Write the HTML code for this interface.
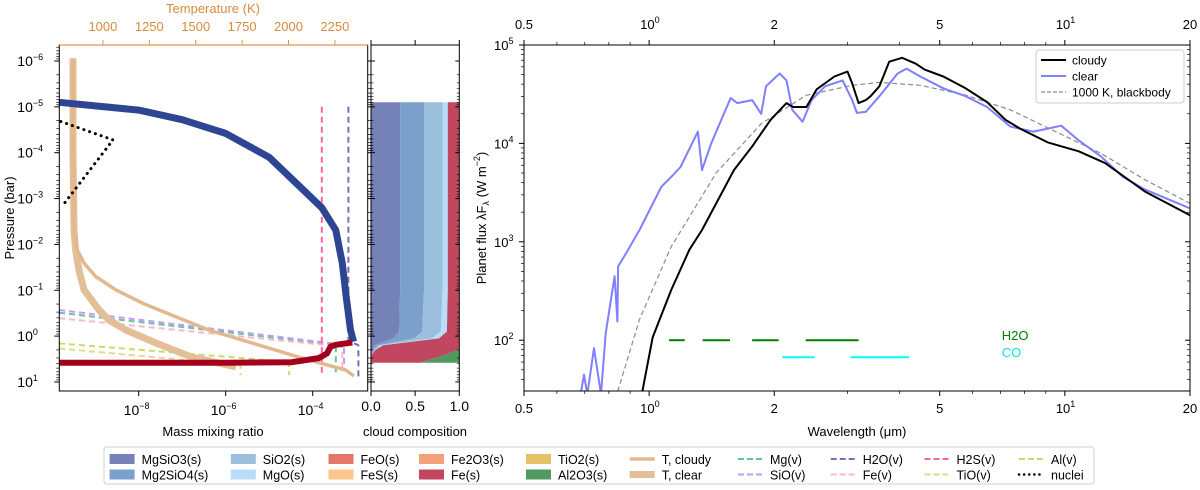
<!DOCTYPE html>
<html><head><meta charset="utf-8"><style>
html,body{margin:0;padding:0;background:#fff;}
svg{display:block;font-family:"Liberation Sans","DejaVu Sans",sans-serif;}
</style></head><body>
<svg id="fig" width="1200" height="490" viewBox="0 0 1200 490" xmlns="http://www.w3.org/2000/svg">
<defs>
<clipPath id="clipL"><rect x="59.3" y="45" width="308.4" height="346"/></clipPath>
<clipPath id="clipC"><rect x="371" y="45" width="88.3" height="346"/></clipPath>
<clipPath id="clipR"><rect x="524" y="45" width="666" height="346"/></clipPath>
</defs>
<g id="left"></g>
<g id="comp"></g>
<g id="right"></g>
<g id="legend"></g>
</svg>
<script>
// ---------- Left panel data (log10 values) ----------
const mgsio3LogX = [-9.83,-9,-8,-7,-6,-5,-4.45,-3.79,-3.47,-3.32,-3.23,-3.13,-3.06];
const mgsio3LogP = [-5.1,-5.02,-4.93,-4.72,-4.42,-3.9,-3.4,-2.8,-2.31,-1.59,-0.86,-0.13,0.12];
const feLogX = [-9.83,-8,-6,-4.48,-3.86,-3.67,-3.59,-3.47,-3.09];
const feLogP = [0.58,0.58,0.58,0.57,0.48,0.375,0.23,0.19,0.14];
const tCloudyT = [839,839,845,862,898,961,1069,1212,1392,1572,1803,2056,2308,2353];
const tCloudyLogP = [-6.06,-4,-2.31,-1.88,-1.59,-1.30,-1.01,-0.72,-0.42,-0.13,0.15,0.46,0.74,0.87];
const tClearT = [839,839,844,853,871,898,979,1033,1124,1286,1480,1717];
const tClearLogP = [-6.06,-4,-2.31,-1.88,-1.44,-1.01,-0.57,-0.35,-0.13,0.15,0.46,0.67];
const nucleiLogX = [-9.79,-8.59,-9.77];
const nucleiLogP = [-4.68,-4.28,-2.82];
const vaporNames = ['Mg(v)','SiO(v)','Fe(v)','Al(v)','TiO(v)','H2S(v)','H2O(v)'];
const vaporColors = ['#66c2a5','#c39bf0','#f9b8c8','#c8dc6a','#e6d98a','#f768a1','#7570b3'];
const vaporLogX = [[-9.83,-3.47,-3.47],[-9.83,-3.28,-3.28],[-9.83,-3.32,-3.32],[-9.83,-4.54,-4.54],[-9.83,-5.66,-5.66],[-3.79,-3.79],[-3.18,-3.18,-2.95,-2.95]];
const vaporLogP = [[-0.51,0.19,0.85],[-0.57,0.19,0.74],[-0.39,0.23,0.7],[0.16,0.56,0.85],[0.27,0.63,0.85],[-5.0,0.88],[-5.0,0.1,0.2,0.88]];
// cloud composition (fractions at pressure levels)
const compLogP = [-5.1,-1,-0.1,0.05,0.2,0.3,0.4,0.58];
const compNames = ['MgSiO3(s)','Mg2SiO4(s)','SiO2(s)','MgO(s)','Fe(s)','Al2O3(s)'];
const compColors = ['#7582b8','#7ba0cc','#9bbfdc','#b8dcf9','#c0475f','#4f9a5f'];
const compFrac = [
 [0.33,0.33,0.32,0.25,0.04,0.02,0.01,0],
 [0.27,0.27,0.26,0.24,0.04,0.01,0,0],
 [0.21,0.21,0.21,0.2,0.03,0.01,0,0],
 [0.06,0.06,0.07,0.08,0.03,0.01,0,0],
 [0.13,0.13,0.14,0.23,0.86,0.93,0.85,0.55],
 [0,0,0,0,0,0.02,0.14,0.45]];
// ---------- Right panel data ----------
const clearLam = [0.684,0.697,0.71,0.737,0.766,0.786,0.826,0.839,0.842,0.879,0.948,1.07,1.13,1.19,1.31,1.34,1.41,1.57,1.63,1.77,1.86,1.91,2.06,2.14,2.21,2.34,2.46,2.65,2.92,3.08,3.16,3.32,3.58,3.96,4.16,4.49,5.1,5.77,6.5,7.4,8.4,9.1,9.8,10.8,12.2,13.8,15.6,20];
const clearLogF = [1.45,1.65,1.45,1.92,1.45,2.07,2.65,2.19,2.75,2.88,3.12,3.56,3.66,3.76,4.12,3.73,4.0,4.46,4.41,4.44,4.30,4.58,4.71,4.64,4.34,4.22,4.44,4.58,4.64,4.44,4.31,4.32,4.48,4.71,4.76,4.68,4.56,4.48,4.37,4.17,4.12,4.15,4.18,4.03,3.87,3.66,3.53,3.34];
const cloudyLam = [0.96,1.02,1.13,1.25,1.34,1.45,1.60,1.77,1.96,2.14,2.22,2.39,2.53,2.79,3.0,3.08,3.19,3.32,3.41,3.58,3.78,4.06,4.38,4.6,5.1,5.77,6.5,7.2,7.8,9.1,10.8,12.5,15.6,20];
const cloudyLogF = [1.45,2.03,2.51,2.92,3.12,3.39,3.73,3.97,4.24,4.41,4.37,4.37,4.55,4.68,4.73,4.61,4.41,4.44,4.48,4.58,4.83,4.87,4.81,4.75,4.68,4.56,4.42,4.24,4.15,4.01,3.92,3.80,3.51,3.27];
const bbLam = [0.84,0.948,1.13,1.45,1.86,2.39,3.08,3.58,4.49,5.77,7.4,9.5,12.2,15.6,20];
const bbLogF = [1.48,2.21,2.95,3.70,4.20,4.49,4.59,4.62,4.59,4.49,4.34,4.12,3.90,3.63,3.39];
const h2oBands = [[1.117,1.218],[1.345,1.565],[1.769,2.049],[2.38,3.19]];
const coBands = [[2.09,2.5],[3.05,4.22]];
const yTicks = [2,3,4,5];
const xTickVals = [0.5,1,2,5,10,20];
const xTickLabels = ['0.5','10^0','2','5','10^1','20'];
const pTicks = [-6,-5,-4,-3,-2,-1,0,1];
const mTicks = [-8,-6,-4];
const tTicks = [1000,1250,1500,1750,2000,2250];
const cTicks = [0,0.5,1];

const NS='http://www.w3.org/2000/svg';
function mk(parent,tag,attrs,name,inter){const e=document.createElementNS(NS,tag);for(const k in attrs)e.setAttribute(k,attrs[k]);


parent.appendChild(e);return e;}
function txt(parent,x,y,s,attrs,name){const e=mk(parent,'text',Object.assign({x:x,y:y,'font-size':13,fill:'#000'},attrs||{}),name,false);e.textContent=s;return e;}
function sup(parent,x,y,base,exp,attrs,name){const e=mk(parent,'text',Object.assign({x:x,y:y,'font-size':13,fill:'#000'},attrs||{}),name,false);
const t1=document.createElementNS(NS,'tspan');t1.textContent=base;e.appendChild(t1);
const t2=document.createElementNS(NS,'tspan');t2.setAttribute('dy','-6');t2.setAttribute('font-size','9');t2.textContent=exp;e.appendChild(t2);return e;}

// ---- scales ----
const L={x0:59.3,x1:367.7,y0:45,y1:391};
const mx=v=>138.7+(v+8)*43.5;
const py=v=>61+(v+6)*45.85;
const tx=T=>59.3+(T-765)*0.1856;
const C={x0:371,x1:459.3};
const cx=f=>C.x0+f*(C.x1-C.x0);
const R={x0:524,x1:1190,y0:45,y1:391};
const lx=l=>524+415.7*Math.log10(l/0.5);
const fy=v=>45+98.4*(5-v);

const left=document.getElementById('left'),comp=document.getElementById('comp'),right=document.getElementById('right'),leg=document.getElementById('legend');

// ===== Left panel =====
const gL=mk(left,'g',{'clip-path':'url(#clipL)'},'profile-plot-area',false);
function poly(g,xs,ys,fx,fyy,st,name){let d='';for(let i=0;i<xs.length;i++)d+=(i?'L':'M')+fx(xs[i]).toFixed(1)+','+fyy(ys[i]).toFixed(1);return mk(g,'path',Object.assign({d:d,fill:'none','stroke-linejoin':'round'},st),name,false);}
vaporNames.forEach((n,i)=>{poly(gL,vaporLogX[i],vaporLogP[i],mx,py,{stroke:vaporColors[i],'stroke-width':2,'stroke-dasharray':'6,4'},'vapor-'+n.replace(/[()]/g,'').toLowerCase());});
poly(gL,tClearT,tClearLogP,tx,py,{stroke:'#e3bf98','stroke-width':7},'t-clear-line');
poly(gL,tCloudyT,tCloudyLogP,tx,py,{stroke:'#e2b88e','stroke-width':3.5},'t-cloudy-line');
poly(gL,mgsio3LogX,mgsio3LogP,mx,py,{stroke:'#2e4593','stroke-width':7},'mgsio3-mmr-line');
poly(gL,feLogX,feLogP,mx,py,{stroke:'#a3001e','stroke-width':6},'fe-mmr-line');
poly(gL,nucleiLogX,nucleiLogP,mx,py,{stroke:'#000','stroke-width':3,'stroke-dasharray':'0.1,6','stroke-linecap':'round'},'nuclei-line');
mk(left,'rect',{x:L.x0,y:L.y0,width:L.x1-L.x0,height:L.y1-L.y0,fill:'none',stroke:'#000','stroke-width':1},'profile-frame',false);
mk(left,'line',{x1:L.x0,y1:L.y0,x2:L.x1,y2:L.y0,stroke:'#e0954a','stroke-width':1.2},'temperature-axis-line',false);
pTicks.forEach(p=>{const y=py(p);
 mk(left,'line',{x1:L.x0-5,y1:y,x2:L.x0,y2:y,stroke:'#000'},'p-major-tick',false);
 mk(left,'line',{x1:L.x1,y1:y,x2:L.x1+5,y2:y,stroke:'#000'},'p-major-tick-right',false);
 sup(left,L.x0-42,y+5,'10',p<0?'\u2212'+(-p):''+p,{'font-size':14},'p-tick-label');
 for(let k=2;k<10;k++){const yy=py(p+Math.log10(k));if(yy<L.y1&&yy>L.y0){mk(left,'line',{x1:L.x0-3,y1:yy,x2:L.x0,y2:yy,stroke:'#000','stroke-width':0.7},'p-minor-tick',false);mk(left,'line',{x1:L.x1,y1:yy,x2:L.x1+3,y2:yy,stroke:'#000','stroke-width':0.7},'p-minor-tick',false);}}});
for(let k=5;k<10;k++){const yy=py(-7+Math.log10(k));if(yy>L.y0){mk(left,'line',{x1:L.x0-3,y1:yy,x2:L.x0,y2:yy,stroke:'#000','stroke-width':0.7},'p-minor-tick',false);}}
mTicks.forEach(m=>{const x=mx(m);mk(left,'line',{x1:x,y1:L.y1,x2:x,y2:L.y1+5,stroke:'#000'},'mmr-tick',false);sup(left,x-15,L.y1+24,'10','\u2212'+(-m),{'font-size':14},'mmr-tick-label');});
txt(left,213,436,'Mass mixing ratio',{'text-anchor':'middle'},'mmr-axis-title');
tTicks.forEach(T=>{const x=tx(T);mk(left,'line',{x1:x,y1:L.y0-5,x2:x,y2:L.y0,stroke:'#e0954a'},'temperature-tick',false);txt(left,x,L.y0-14,''+T,{'text-anchor':'middle',fill:'#d98a3d'},'temperature-tick-label');});
txt(left,213,13,'Temperature (K)',{'text-anchor':'middle',fill:'#d98a3d'},'temperature-axis-title');
txt(left,0,0,'Pressure (bar)',{'text-anchor':'middle',transform:'translate(14,218) rotate(-90)'},'pressure-axis-title');

// ===== Composition panel =====
const gC=mk(comp,'g',{'clip-path':'url(#clipC)'},'composition-area',false);
let cum=compLogP.map(()=>0);
compNames.forEach((n,i)=>{
 const lo=cum.slice();cum=cum.map((c,j)=>c+compFrac[i][j]);
 let d='';compLogP.forEach((p,j)=>{d+=(j?'L':'M')+cx(cum[j]).toFixed(1)+','+py(p).toFixed(1);});
 for(let j=compLogP.length-1;j>=0;j--)d+='L'+cx(lo[j]).toFixed(1)+','+py(compLogP[j]).toFixed(1);
 mk(gC,'path',{d:d+'Z',fill:compColors[i],stroke:'none'},'comp-area-'+n.replace(/[()]/g,'').toLowerCase(),false);
});
mk(comp,'rect',{x:C.x0,y:L.y0,width:C.x1-C.x0,height:L.y1-L.y0,fill:'none',stroke:'#000'},'composition-frame',false);
cTicks.forEach(f=>{const x=cx(f);mk(comp,'line',{x1:x,y1:L.y1,x2:x,y2:L.y1+5,stroke:'#000'},'comp-tick',false);mk(comp,'line',{x1:x,y1:L.y0-5,x2:x,y2:L.y0,stroke:'#000'},'comp-tick-top',false);txt(comp,x,L.y1+20,f.toFixed(1),{'text-anchor':'middle','font-size':14},'comp-tick-label');});
pTicks.forEach(p=>{const y=py(p);mk(comp,'line',{x1:C.x0,y1:y,x2:C.x0+4,y2:y,stroke:'#000'},'comp-p-tick',false);mk(comp,'line',{x1:C.x1-4,y1:y,x2:C.x1,y2:y,stroke:'#000'},'comp-p-tick',false);
 for(let k=2;k<10;k++){const yy=py(p+Math.log10(k));if(yy<L.y1){mk(comp,'line',{x1:C.x0,y1:yy,x2:C.x0+2.5,y2:yy,stroke:'#000','stroke-width':0.6},'comp-minor',false);mk(comp,'line',{x1:C.x1-2.5,y1:yy,x2:C.x1,y2:yy,stroke:'#000','stroke-width':0.6},'comp-minor',false);}}});
txt(comp,415,436,'cloud composition',{'text-anchor':'middle'},'composition-axis-title');

// ===== Right panel =====
const gR=mk(right,'g',{'clip-path':'url(#clipR)'},'spectrum-plot-area',false);
poly(gR,bbLam,bbLogF,lx,fy,{stroke:'#8c8c8c','stroke-width':1.2,'stroke-dasharray':'5,3'},'blackbody-line');
poly(gR,clearLam,clearLogF,lx,fy,{stroke:'#7f7fff','stroke-width':2},'clear-spectrum-line');
poly(gR,cloudyLam,cloudyLogF,lx,fy,{stroke:'#000','stroke-width':2},'cloudy-spectrum-line');
h2oBands.forEach(b=>mk(gR,'line',{x1:lx(b[0]),x2:lx(b[1]),y1:fy(2),y2:fy(2),stroke:'#008000','stroke-width':2},'h2o-band',false));
coBands.forEach(b=>mk(gR,'line',{x1:lx(b[0]),x2:lx(b[1]),y1:fy(1.827),y2:fy(1.827),stroke:'#00ffff','stroke-width':2},'co-band',false));
txt(right,lx(7.05),340,'H2O',{fill:'#008000'},'h2o-label');
txt(right,lx(7.05),357,'CO',{fill:'#00e5ee'},'co-label');
mk(right,'rect',{x:R.x0,y:R.y0,width:R.x1-R.x0,height:R.y1-R.y0,fill:'none',stroke:'#000'},'spectrum-frame',false);
yTicks.forEach(v=>{const y=fy(v);mk(right,'line',{x1:R.x0-5,y1:y,x2:R.x0,y2:y,stroke:'#000'},'flux-tick',false);mk(right,'line',{x1:R.x1-5,y1:y,x2:R.x1,y2:y,stroke:'#000'},'flux-tick-right',false);sup(right,R.x0-30,y+5,'10',''+v,{},'flux-tick-label');
 for(let k=2;k<10;k++){const yy=fy(v-1+Math.log10(k));if(yy<R.y1){mk(right,'line',{x1:R.x0-3,y1:yy,x2:R.x0,y2:yy,stroke:'#000','stroke-width':0.7},'flux-minor',false);mk(right,'line',{x1:R.x1-3,y1:yy,x2:R.x1,y2:yy,stroke:'#000','stroke-width':0.7},'flux-minor',false);}}});
xTickVals.forEach((v,i)=>{const x=lx(v);['b','t'].forEach(s=>{const y=s=='b'?R.y1:R.y0;mk(right,'line',{x1:x,y1:y,x2:x,y2:s=='b'?y+5:y-5,stroke:'#000'},'wavelength-tick',false);
 const ly=s=='b'?R.y1+22:R.y0-16;const lab=xTickLabels[i];
 if(lab.indexOf('^')>0){const p=lab.split('^');sup(right,x-9,ly,p[0],p[1],{},'wavelength-tick-label');}else txt(right,x,ly,lab,{'text-anchor':'middle'},'wavelength-tick-label');});});
[0.6,0.7,0.8,0.9,3,4,6,7,8,9].forEach(v=>{const x=lx(v);mk(right,'line',{x1:x,y1:R.y1,x2:x,y2:R.y1+3,stroke:'#000','stroke-width':0.7},'wavelength-minor',false);mk(right,'line',{x1:x,y1:R.y0-3,x2:x,y2:R.y0,stroke:'#000','stroke-width':0.7},'wavelength-minor',false);});
txt(right,857,436,'Wavelength (\u03bcm)',{'text-anchor':'middle'},'wavelength-axis-title');
const yl=mk(right,'text',{x:0,y:0,'font-size':13,'text-anchor':'middle',transform:'translate(486,218) rotate(-90)'},'flux-axis-title',false);
yl.innerHTML='Planet flux \u03bbF<tspan font-size="9" dy="3">\u03bb</tspan><tspan dy="-3"> (W m</tspan><tspan font-size="9" dy="-6">\u22122</tspan><tspan dy="6">)</tspan>';
const gl=mk(right,'g',{},'spectrum-legend',false);
mk(gl,'rect',{x:1036,y:50,width:148,height:53,rx:3,fill:'#fff',stroke:'#ccc'},'spectrum-legend-box',false);
[['cloudy','#000',null],['clear','#7f7fff',null],['1000 K, blackbody','#8c8c8c','4,2']].forEach((e,i)=>{const y=60+i*16;
 const a={x1:1041,x2:1066,y1:y,y2:y,stroke:e[1],'stroke-width':e[2]?1.2:2};if(e[2])a['stroke-dasharray']=e[2];
 mk(gl,'line',a,'legend-handle-'+e[0].split(' ')[0].replace(',',''),false);txt(gl,1072,y+4.5,e[0],{'font-size':12},'legend-label');});

// ===== bottom legend =====
mk(leg,'rect',{x:104,y:447,width:990,height:37,rx:3,fill:'#fff',stroke:'#d0d0d0'},'legend-box',false);
const legCols=[109.6,230.8,328.5,419,526,629.7,738,830.7,924.5,1019];
const legItems=[
 [['MgSiO3(s)','patch','#7582b8'],['Mg2SiO4(s)','patch','#7ba0cc']],
 [['SiO2(s)','patch','#9bbfdc'],['MgO(s)','patch','#b8dcf9']],
 [['FeO(s)','patch','#e4776a'],['FeS(s)','patch','#fdc68a']],
 [['Fe2O3(s)','patch','#f4a07a'],['Fe(s)','patch','#c0475f']],
 [['TiO2(s)','patch','#e5c16a'],['Al2O3(s)','patch','#4f9a5f']],
 [['T, cloudy','line','#e2b88e',3.5],['T, clear','line','#e3bf98',7]],
 [['Mg(v)','dash','#66c2a5'],['SiO(v)','dash','#c39bf0']],
 [['H2O(v)','dash','#7570b3'],['Fe(v)','dash','#f9b8c8']],
 [['H2S(v)','dash','#f768a1'],['TiO(v)','dash','#e6d98a']],
 [['Al(v)','dash','#c8dc6a'],['nuclei','dot','#000']]];
legItems.forEach((col,i)=>col.forEach((it,r)=>{const x=legCols[i],y=459+r*15.5;
 if(it[1]=='patch')mk(leg,'rect',{x:x,y:y-5,width:25,height:10,fill:it[2]},'legend-patch-'+it[0].replace(/[()]/g,'').toLowerCase(),false);
 else{const a={x1:x,x2:x+25,y1:y,y2:y,stroke:it[2],'stroke-width':it[3]||2};
  if(it[1]=='dash')a['stroke-dasharray']='6,3';if(it[1]=='dot'){a['stroke-dasharray']='0.1,5';a['stroke-linecap']='round';a['stroke-width']=2.5;}
  mk(leg,'line',a,'legend-handle-'+it[0].replace(/[(), ]/g,'').toLowerCase(),false);}
 txt(leg,x+32,y+5,it[0],{'font-size':12.5},'legend-entry-label');}));
</script>
</body></html>
